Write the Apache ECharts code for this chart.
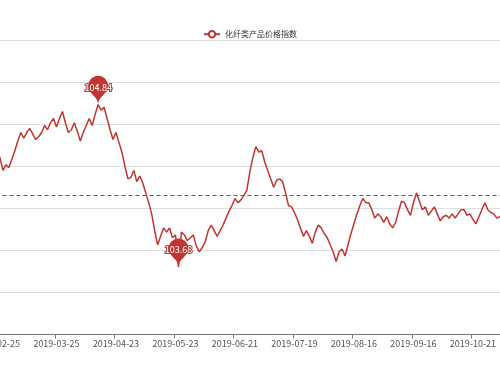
<!DOCTYPE html>
<html>
<head>
<meta charset="utf-8">
<script src="https://cdn.jsdelivr.net/npm/echarts@6/dist/echarts.min.js"></script>
<style>
html,body{margin:0;padding:0;background:#fff;}
#chart{width:500px;height:375px;}
</style>
</head>
<body>
<div id="chart"></div>
<script>
const seriesName = '化纤类产品价格指数';

const dates = [
'2019-02-25','2019-02-26','2019-02-27','2019-02-28','2019-03-01',
'2019-03-04','2019-03-05','2019-03-06','2019-03-07','2019-03-08',
'2019-03-11','2019-03-12','2019-03-13','2019-03-14','2019-03-15',
'2019-03-18','2019-03-19','2019-03-20','2019-03-21','2019-03-22',
'2019-03-25','2019-03-26','2019-03-27','2019-03-28','2019-03-29',
'2019-04-01','2019-04-02','2019-04-03','2019-04-04',
'2019-04-08','2019-04-09','2019-04-10','2019-04-11','2019-04-12',
'2019-04-15','2019-04-16','2019-04-17','2019-04-18','2019-04-19',
'2019-04-22','2019-04-23','2019-04-24','2019-04-25','2019-04-26',
'2019-04-28','2019-04-29','2019-04-30',
'2019-05-06','2019-05-07','2019-05-08','2019-05-09','2019-05-10',
'2019-05-13','2019-05-14','2019-05-15','2019-05-16','2019-05-17',
'2019-05-20','2019-05-21','2019-05-22','2019-05-23','2019-05-24',
'2019-05-27','2019-05-28','2019-05-29','2019-05-30','2019-05-31',
'2019-06-03','2019-06-04','2019-06-05','2019-06-06',
'2019-06-10','2019-06-11','2019-06-12','2019-06-13','2019-06-14',
'2019-06-17','2019-06-18','2019-06-19','2019-06-20','2019-06-21',
'2019-06-24','2019-06-25','2019-06-26','2019-06-27','2019-06-28',
'2019-07-01','2019-07-02','2019-07-03','2019-07-04','2019-07-05',
'2019-07-08','2019-07-09','2019-07-10','2019-07-11','2019-07-12',
'2019-07-15','2019-07-16','2019-07-17','2019-07-18','2019-07-19',
'2019-07-22','2019-07-23','2019-07-24','2019-07-25','2019-07-26',
'2019-07-29','2019-07-30','2019-07-31','2019-08-01','2019-08-02',
'2019-08-05','2019-08-06','2019-08-07','2019-08-08','2019-08-09',
'2019-08-12','2019-08-13','2019-08-14','2019-08-15','2019-08-16',
'2019-08-19','2019-08-20','2019-08-21','2019-08-22','2019-08-23',
'2019-08-26','2019-08-27','2019-08-28','2019-08-29','2019-08-30',
'2019-09-02','2019-09-03','2019-09-04','2019-09-05','2019-09-06',
'2019-09-09','2019-09-10','2019-09-11','2019-09-12','2019-09-16',
'2019-09-17','2019-09-18','2019-09-19','2019-09-20',
'2019-09-23','2019-09-24','2019-09-25','2019-09-26','2019-09-27',
'2019-09-30','2019-10-08','2019-10-09','2019-10-10','2019-10-11',
'2019-10-14','2019-10-15','2019-10-16','2019-10-17','2019-10-18',
'2019-10-21','2019-10-22','2019-10-23','2019-10-24','2019-10-25',
'2019-10-28','2019-10-29','2019-10-30','2019-10-31','2019-11-01',
'2019-11-04'
];

const values = [
104.50,104.46,104.37,104.41,104.39,104.45,104.51,104.58,104.64,104.60,
104.64,104.67,104.63,104.59,104.61,104.64,104.69,104.66,104.71,104.74,
104.68,104.74,104.79,104.71,104.64,104.66,104.71,104.65,104.58,104.64,
104.69,104.74,104.69,104.77,104.84,104.80,104.82,104.74,104.66,104.59,
104.64,104.57,104.50,104.40,104.31,104.32,104.37,104.29,104.33,104.28,
104.21,104.14,104.06,103.94,103.84,103.90,103.96,103.93,103.96,103.89,
103.91,103.68,103.93,103.91,103.87,103.89,103.91,103.83,103.79,103.82,
103.86,103.94,103.98,103.94,103.90,103.94,103.98,104.03,104.08,104.12,
104.17,104.14,104.16,104.19,104.23,104.36,104.46,104.54,104.50,104.51,
104.43,104.37,104.31,104.25,104.30,104.31,104.29,104.21,104.12,104.11,
104.07,104.02,103.96,103.90,103.94,103.90,103.85,103.93,103.98,103.96,
103.92,103.89,103.84,103.79,103.72,103.79,103.81,103.76,103.84,103.92,
103.99,104.06,104.12,104.17,104.14,104.14,104.09,104.03,104.06,104.04,
104.00,104.04,103.99,103.96,104.00,104.08,104.15,104.14,104.09,104.05,
104.14,104.21,104.15,104.09,104.11,104.05,104.08,104.11,104.06,104.01,
104.04,104.05,104.03,104.06,104.03,104.06,104.09,104.09,104.05,104.06,
104.02,103.99,104.04,104.09,104.14,104.09,104.07,104.06,104.03,104.04,
104.06
];

const averageLine = 104.19;
const yMin = 103.2, yMax = 105.3, yStep = 0.3;

const RED = '#c23531';
const FONT = '"Noto Sans CJK SC", "Noto Sans", sans-serif';

const chart = echarts.init(document.getElementById('chart'), null, {renderer: 'canvas'});
chart.setOption({
  animation: false,
  textStyle: {fontFamily: FONT},
  legend: {
    top: 25,
    left: 'center',
    itemWidth: 16,
    itemHeight: 8,
    itemGap: 10,
    itemStyle: {borderWidth: 1},
    textStyle: {fontSize: 8, color: '#333', fontFamily: FONT},
    data: [seriesName]
  },
  grid: {
    left: -4.5,
    right: -4.2,
    top: 40,
    bottom: 40.5,
    containLabel: false,
    outerBoundsMode: 'none'
  },
  xAxis: {
    type: 'category',
    data: dates,
    boundaryGap: true,
    axisLine: {lineStyle: {color: '#777', width: 1}},
    axisTick: {show: true, interval: 19, length: 4, lineStyle: {color: '#777'}},
    axisLabel: {interval: 19, fontSize: 9, color: '#555', margin: 5, fontFamily: FONT, hideOverlap: false}
  },
  yAxis: {
    type: 'value',
    min: yMin,
    max: yMax,
    interval: yStep,
    axisLine: {show: false},
    axisTick: {show: false},
    axisLabel: {show: false},
    splitLine: {lineStyle: {color: '#dedede', width: 1}}
  },
  series: [{
    name: seriesName,
    type: 'line',
    data: values,
    symbol: 'emptyCircle',
    showSymbol: false,
    smooth: false,
    color: RED,
    lineStyle: {color: RED, width: 1.5},
    itemStyle: {color: RED},
    markPoint: {
      symbol: 'pin',
      symbolSize: 33,
      itemStyle: {color: RED},
      label: {
        show: true,
        position: 'inside',
        color: '#fff',
        fontSize: 9,
        fontFamily: FONT,
        textBorderColor: RED,
        textBorderWidth: 2
      },
      data: [
        {type: 'max', name: '最大值'},
        {type: 'min', name: '最小值'}
      ]
    },
    markLine: {
      symbol: ['none', 'none'],
      silent: true,
      label: {show: false},
      lineStyle: {color: RED, type: [4, 3], width: 1.2, opacity: 1},
      emphasis: {disabled: true},
      data: [{yAxis: averageLine, name: '平均值'}]
    }
  }]
});
</script>
</body>
</html>
